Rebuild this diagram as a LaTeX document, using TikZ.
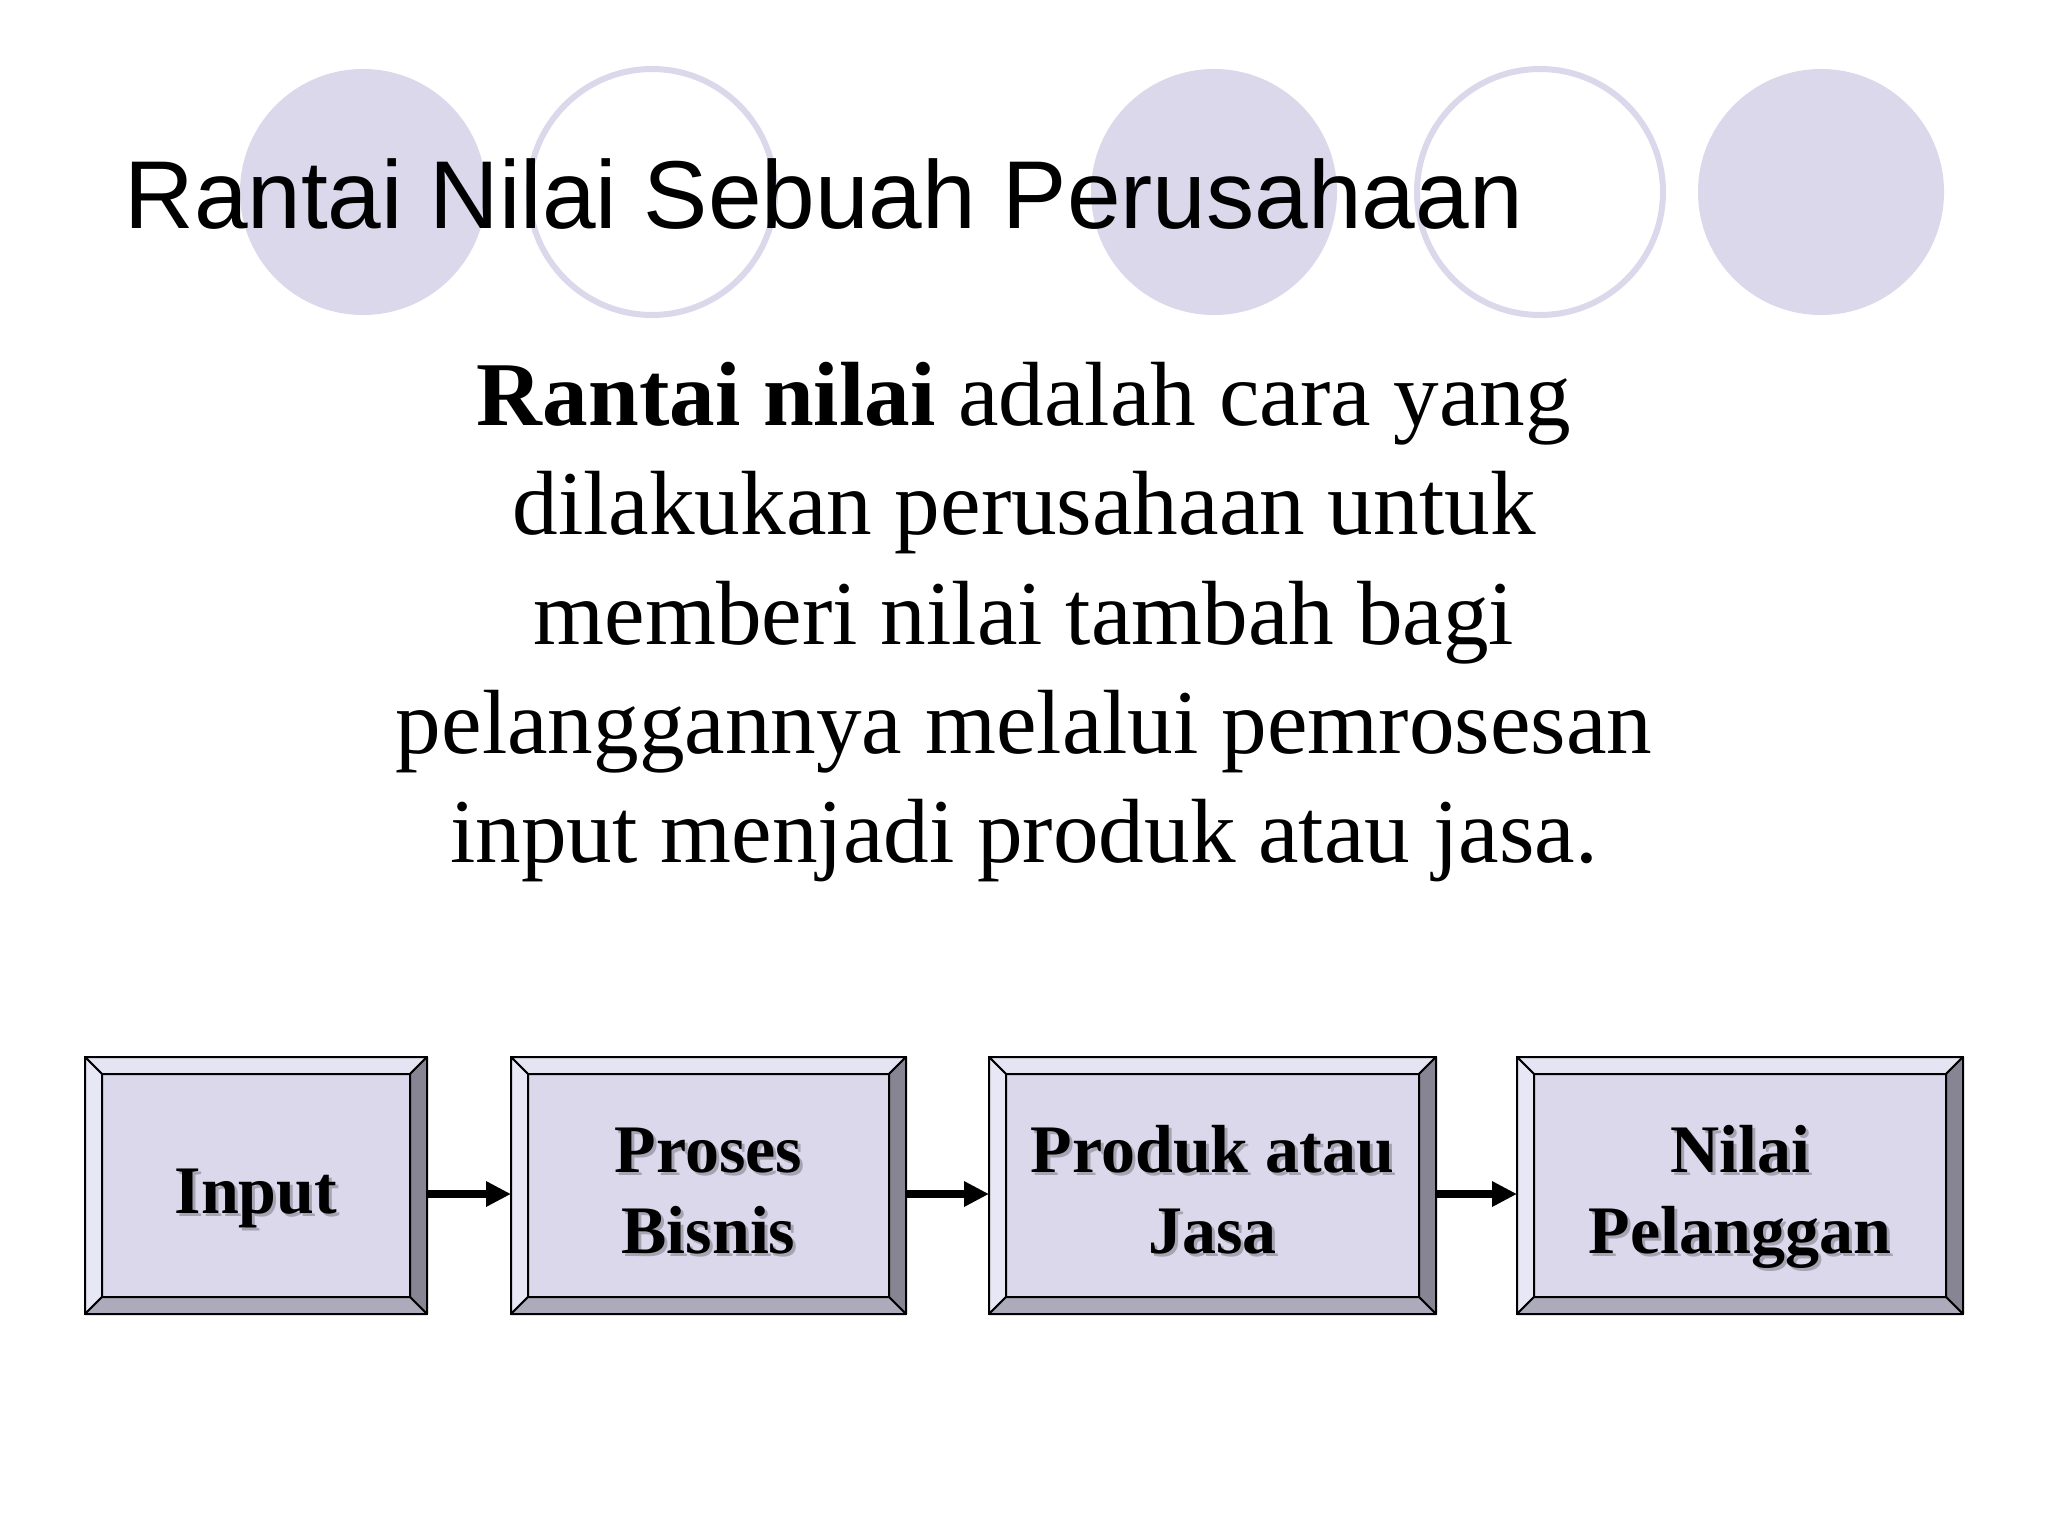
\documentclass[tikz,border=0pt]{standalone}
\usepackage{fontspec}
\setmainfont{Liberation Serif}
\newfontfamily\titlefont{Liberation Sans}
\usetikzlibrary{calc,arrows.meta}
\definecolor{lav}{HTML}{DAD8EA}
\definecolor{facec}{HTML}{DAD8EA}
\definecolor{topc}{HTML}{E5E4F2}
\definecolor{leftc}{HTML}{E8E7F5}
\definecolor{rightc}{HTML}{878593}
\definecolor{botc}{HTML}{ACAABB}
\definecolor{shadowc}{HTML}{A5A4B2}
\newcommand\shtxt[1]{\makebox[0pt][l]{\hspace{1.5pt}\raisebox{-1.5pt}{\textcolor{shadowc}{#1}}}#1}
\tikzset{
  facebox/.style={rectangle, fill=facec, draw=black, line width=1pt, outer sep=0pt, inner sep=0pt},
  bev/.style={draw=black, line width=1pt, line join=round},
  lbl/.style={inner sep=0pt, font=\fontsize{34}{40}\selectfont\bfseries},
  bodyline/.style={inner sep=0pt, anchor=base, font=\fontsize{45.6}{54}\selectfont},
  flowarrow/.style={line width=4pt, -{Triangle[length=12.5pt,width=12pt]}},
  dotfill/.style={fill=lav, draw=none},
  dotring/.style={draw=lav, line width=3pt, fill=none}
}
\newcommand\bevbox[5]{%
  \node[facebox, minimum width=#4*0.5pt, minimum height=#5*0.5pt] (#1) at (#2,#3) {};
  \path[bev, fill=topc] (#1.north west) -- (#1.north east) -- ($(#1.north east)+(-17,17)$) -- ($(#1.north west)+(17,17)$) -- cycle;
  \path[bev, fill=leftc] (#1.north west) -- ($(#1.north west)+(17,17)$) -- ($(#1.south west)+(17,-17)$) -- (#1.south west) -- cycle;
  \path[bev, fill=rightc] (#1.north east) -- (#1.south east) -- ($(#1.south east)+(-17,-17)$) -- ($(#1.north east)+(-17,17)$) -- cycle;
  \path[bev, fill=botc] (#1.south west) -- ($(#1.south west)+(17,-17)$) -- ($(#1.south east)+(-17,-17)$) -- (#1.south east) -- cycle;
}
\begin{document}
\begin{tikzpicture}[x=0.5pt,y=-0.5pt]
\useasboundingbox (0,0) rectangle (2048,1536);
\fill[white] (0,0) rectangle (2048,1536);

% decorative circles
\fill[dotfill] (363,192) circle[radius=123];
\draw[dotring] (652,192) circle[radius=123];
\fill[dotfill] (1214,192) circle[radius=123];
\draw[dotring] (1540,192) circle[radius=123];
\fill[dotfill] (1821,192) circle[radius=123];

% title
\node[inner sep=0pt, anchor=base west, font=\titlefont\fontsize{48.2}{56}\selectfont] (title) at (124,228) {Rantai Nilai Sebuah Perusahaan};

% body text
\node[bodyline] (l1) at (1024,425) {\textbf{Rantai nilai} adalah cara yang};
\node[bodyline] (l2) at (1024,534) {dilakukan perusahaan untuk};
\node[bodyline] (l3) at (1024,644) {memberi nilai tambah bagi};
\node[bodyline] (l4) at (1024,753) {pelanggannya melalui pemrosesan};
\node[bodyline] (l5) at (1024,862) {input menjadi produk atau jasa.};

% boxes
\bevbox{b1}{256}{1185.5}{342}{257}
\bevbox{b2}{708.5}{1185.5}{395}{257}
\bevbox{b3}{1212.5}{1185.5}{447}{257}
\bevbox{b4}{1740}{1185.5}{446}{257}

\node[lbl, anchor=base] (b1t) at ($(b1.center)+(0,27.5)$) {\shtxt{Input}};
\node[lbl, anchor=base] (b2t1) at ($(b2.center)+(0,-13.5)$) {\shtxt{Proses}};
\node[lbl, anchor=base] (b2t2) at ($(b2.center)+(0,67.5)$) {\shtxt{Bisnis}};
\node[lbl, anchor=base] (b3t1) at ($(b3.center)+(0,-13.5)$) {\shtxt{Produk atau}};
\node[lbl, anchor=base] (b3t2) at ($(b3.center)+(0,67.5)$) {\shtxt{Jasa}};
\node[lbl, anchor=base] (b4t1) at ($(b4.center)+(0,-13.5)$) {\shtxt{Nilai}};
\node[lbl, anchor=base] (b4t2) at ($(b4.center)+(0,67.5)$) {\shtxt{Pelanggan}};

% arrows
\draw[flowarrow] ($(b1.east)+(0,8.5)$) -- ($(b2.west)+(0,8.5)$);
\draw[flowarrow] ($(b2.east)+(0,8.5)$) -- ($(b3.west)+(0,8.5)$);
\draw[flowarrow] ($(b3.east)+(0,8.5)$) -- ($(b4.west)+(0,8.5)$);
\end{tikzpicture}
\end{document}
